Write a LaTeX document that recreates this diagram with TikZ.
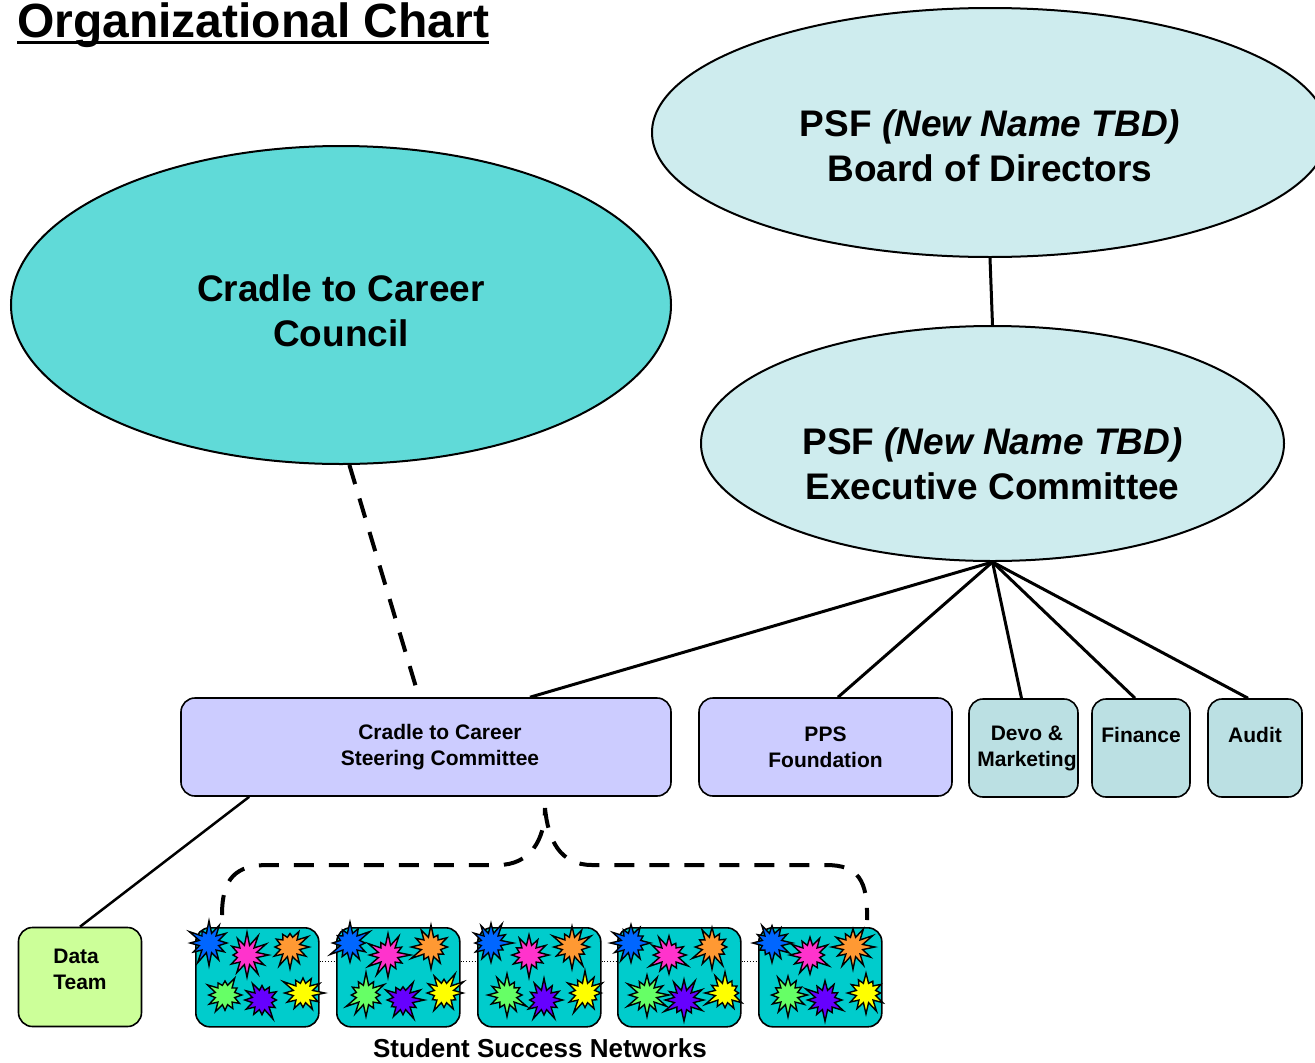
\documentclass[tikz,border=0pt]{standalone}
\usepackage{fontspec}
\setmainfont{Liberation Sans}
\usepackage{xcolor}
\usepackage{tikz}
\usetikzlibrary{shapes, shapes.geometric, shapes.symbols, positioning, calc}

\definecolor{councilcyan}{RGB}{96,218,216}
\definecolor{psfpale}{RGB}{206,236,238}
\definecolor{lav}{RGB}{204,204,255}
\definecolor{tealpale}{RGB}{187,224,227}
\definecolor{datagreen}{RGB}{204,255,153}
\definecolor{ssncyan}{RGB}{0,204,204}
\definecolor{burstblue}{RGB}{0,102,255}
\definecolor{burstpink}{RGB}{255,51,204}
\definecolor{burstorange}{RGB}{255,153,51}
\definecolor{burstgreen}{RGB}{102,255,102}
\definecolor{burstpurple}{RGB}{102,0,255}
\definecolor{burstyellow}{RGB}{255,255,0}

\tikzset{
	oval/.style={ellipse, draw, line width=2pt, inner sep=0pt},
	ovaltext/.style={font=\fontsize{37}{45}\selectfont\bfseries, align=center},
	unit/.style={rectangle, rounded corners=14pt, draw, line width=1.6pt, align=center, font=\fontsize{21}{26}\selectfont\bfseries},
	net/.style={rectangle, rounded corners=14pt, draw, line width=1.6pt, fill=ssncyan, minimum width=123pt, minimum height=99pt, anchor=north west},
	burst/.style={starburst, starburst points=12, starburst point height=13pt, draw, line width=1.4pt, inner sep=0pt, minimum size=46pt},
	link/.style={line width=3pt},
	dashlink/.style={line width=4pt, dash pattern=on 20pt off 15pt}
}

\begin{document}
\begin{tikzpicture}[x=1pt, y=-1pt]
		
		\useasboundingbox (0,0) rectangle (1315,1063);
		
		%// title
		\node [inner sep=0pt, anchor=base west, font=\fontsize{48}{52}\selectfont\bfseries] (title) at (17,37) {Organizational Chart};
		\draw [line width=3pt] ([yshift=-5pt]title.base west) -- ([yshift=-5pt]title.base east);
		
		%// ellipses
		\node [oval, fill=councilcyan, minimum width=660pt, minimum height=318pt] (council) at (341,305) {};
		\node [ovaltext] (counciltext) at ([yshift=-6pt]council.center) {Cradle to Career\\Council};
		
		\node [oval, fill=psfpale, minimum width=676pt, minimum height=249pt] (board) at (990,132.5) {};
		\node [ovaltext] (boardtext) at ([yshift=-13pt]board.center) {PSF \textit{(New Name TBD)}\\Board of Directors};
		
		\node [oval, fill=psfpale, minimum width=583pt, minimum height=235pt] (exec) at (992.5,443.5) {};
		\node [ovaltext] (exectext) at ([yshift=-20pt]exec.center) {PSF \textit{(New Name TBD)}\\Executive Committee};
		
		\draw [link] (board.south) -- (exec.north);
		
		%// committees
		\node [unit, fill=lav, minimum width=490pt, minimum height=98pt] (steer) at (426,747) {\hspace*{28pt}Cradle to Career\\\hspace*{28pt}Steering Committee};
		\node [unit, fill=lav, minimum width=253pt, minimum height=98pt] (pps) at (825.5,747) {PPS\\Foundation};
		\node [unit, fill=tealpale, minimum width=109pt, minimum height=98pt, inner xsep=0pt] (devo) at (1023.5,748) {\hspace*{7pt}Devo \&\\\hspace*{7pt}Marketing};
		\node [unit, fill=tealpale, minimum width=98pt, minimum height=98pt] (finance) at (1141,748) {Finance\\\mbox{}};
		\node [unit, fill=tealpale, minimum width=94pt, minimum height=98pt] (audit) at (1255,748) {Audit\\\mbox{}};
		
		\foreach \t/\dx in {steer/104, pps/12.5, devo/-2, finance/-6, audit/-7}
		\draw [link] (exec.south) -- ([xshift=\dx pt]\t.north);
		
		\draw [dashlink] (council.-87) -- ([xshift=-7pt]steer.north);
		
		\node [unit, fill=datagreen, minimum width=123pt, minimum height=99pt, align=left] (data) at (80,977) {Data\\Team\\[-10pt]\mbox{}};
		\draw [line width=2.5pt] ([xshift=69pt]steer.south west) -- (data.north);
		
		%// student success networks
		\foreach \i/\x in {1/195, 2/336, 3/477, 4/617, 5/758}
		\node [net] (net\i) at (\x,927) {};
		
		\foreach \i/\j in {1/2, 2/3, 3/4, 4/5}
		\draw [dotted, line width=0.8pt] ([yshift=16pt]net\i.east) -- ([yshift=16pt]net\j.west);
		
		\foreach \i in {1,...,5}
		{
		\foreach \c/\dx/\dy [count=\k] in {burstblue/14/16, burstpink/52/28, burstorange/95/20, burstgreen/30/68, burstpurple/67/73, burstyellow/108/66}
		{
		\pgfmathtruncatemacro{\seed}{\i*7+\k*13}
		\node [burst, fill=\c, random starburst=\seed] (star\i\k) at ([xshift=\dx pt, yshift=-\dy pt]net\i.north west) {};
		}
		}
		
		\node [font=\fontsize{26}{30}\selectfont\bfseries, anchor=base] (netlabel) at (540,1057) {Student Success Networks};
		
		%// brace over the networks
		\coordinate (bracetip) at (545,808);
		\draw [dashlink] ([xshift=27pt, yshift=12pt]net1.north west) .. controls (222,878) and (236,865) .. (268,865) -- (498,865) .. controls (530,865) and (545,840) .. (bracetip);
		\draw [dashlink] (bracetip) .. controls (548,840) and (560,865) .. (592,865) -- (826,865) .. controls (858,865) and (868,880) .. ([xshift=109pt, yshift=7pt]net5.north west);
		
\end{tikzpicture}
\end{document}
